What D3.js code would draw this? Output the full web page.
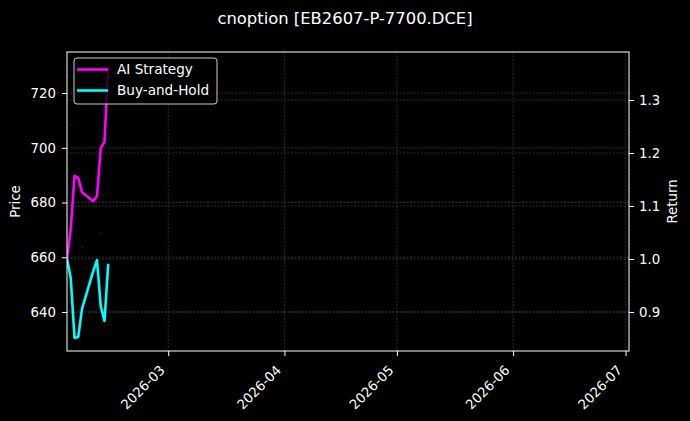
<!DOCTYPE html>
<html>
<head>
<meta charset="utf-8">
<script src="https://cdn.jsdelivr.net/npm/d3@7"></script>
<style>
  html, body { margin: 0; padding: 0; background: #000; }
  svg { display: block; font-family: "DejaVu Sans", sans-serif; }
</style>
</head>
<body>
<div id="chart"></div>
<script>
// trading days shown in the chart
const dates = ['2026-02-02', '2026-02-03', '2026-02-04', '2026-02-05', '2026-02-06',
               '2026-02-09', '2026-02-10', '2026-02-11', '2026-02-12', '2026-02-13'];

// cumulative returns (right axis)
const aiStrategy = [1.000, 1.057, 1.157, 1.153, 1.126, 1.109, 1.119, 1.209, 1.221, 1.363];
const buyAndHold = [1.000, 0.964, 0.851, 0.853, 0.906, 0.977, 0.998, 0.911, 0.883, 0.991];

// small trade markers, on the price axis
const signalDates = ['2026-02-03', '2026-02-06', '2026-02-11'];
const signalPrices = [708.3, 663.7, 668.8];

const priceTicks = [640, 660, 680, 700, 720];
const returnTicks = [0.9, 1.0, 1.1, 1.2, 1.3];
const monthTicks = ['2026-03-01', '2026-04-01', '2026-05-01', '2026-06-01', '2026-07-01'];

const seriesNames = ['AI Strategy', 'Buy-and-Hold'];
const seriesColors = ['#ff00ff', '#00ffff'];

class DualAxisChart {

    constructor(_config) {
        this.config = {
            parentElement: _config.parentElement,
            containerWidth: _config.containerWidth || 690,
            containerHeight: _config.containerHeight || 421,
            margin: _config.margin || {top: 52, right: 61, bottom: 70, left: 67}
        };
        this.initVis();
    }

    initVis() {
        let vis = this;
        const parse = d3.timeParse('%Y-%m-%d');

        vis.width = vis.config.containerWidth - vis.config.margin.left - vis.config.margin.right;
        vis.height = vis.config.containerHeight - vis.config.margin.top - vis.config.margin.bottom;

        vis.svg = d3.select(vis.config.parentElement)
            .append('svg')
            .attr('width', vis.config.containerWidth)
            .attr('height', vis.config.containerHeight)
            .style('background', '#000');

        vis.chart = vis.svg.append('g')
            .attr('transform', `translate(${vis.config.margin.left},${vis.config.margin.top})`);

        // scales
        vis.x = d3.scaleTime()
            .domain([new Date(2026, 1, 2), new Date(2026, 6, 1, 22)])
            .range([0, vis.width]);
        vis.yPrice = d3.scaleLinear().domain([625.75, 735]).range([vis.height, 0]);
        vis.yReturn = d3.scaleLinear().domain([0.8264, 1.3906]).range([vis.height, 0]);

        const months = monthTicks.map(parse);

        // grid
        const grid = vis.chart.append('g')
            .attr('stroke', '#4e4e4e')
            .attr('stroke-width', 0.6)
            .attr('stroke-dasharray', '2,1.5');
        grid.selectAll('.gx').data(months).join('line')
            .attr('x1', d => vis.x(d)).attr('x2', d => vis.x(d))
            .attr('y1', 0).attr('y2', vis.height);
        grid.selectAll('.gp').data(priceTicks).join('line')
            .attr('x1', 0).attr('x2', vis.width)
            .attr('y1', d => vis.yPrice(d)).attr('y2', d => vis.yPrice(d));
        grid.selectAll('.gr').data(returnTicks).join('line')
            .attr('x1', 0).attr('x2', vis.width)
            .attr('y1', d => vis.yReturn(d)).attr('y2', d => vis.yReturn(d));

        vis.svg.append('defs').append('clipPath').attr('id', 'clip')
            .append('rect').attr('width', vis.width).attr('height', vis.height);

        const plot = vis.chart.append('g').attr('clip-path', 'url(#clip)');

        // trade markers
        plot.selectAll('.signal')
            .data(signalDates.map((d, i) => ({date: parse(d), price: signalPrices[i]})))
            .join('circle')
            .attr('cx', d => vis.x(d.date))
            .attr('cy', d => vis.yPrice(d.price))
            .attr('r', 1)
            .attr('fill', '#5a0808');

        // return lines
        const line = d3.line()
            .x(d => vis.x(d.date))
            .y(d => vis.yReturn(d.value));

        [aiStrategy, buyAndHold].forEach((values, i) => {
            plot.append('path')
                .datum(values.map((v, j) => ({date: parse(dates[j]), value: v})))
                .attr('fill', 'none')
                .attr('stroke', seriesColors[i])
                .attr('stroke-width', 2.6)
                .attr('stroke-linejoin', 'round')
                .attr('d', line);
        });

        // axes
        const styleAxis = g => {
            g.select('.domain').remove();
            g.selectAll('.tick line').attr('stroke', '#fff');
            g.selectAll('.tick text').attr('fill', '#fff').attr('font-size', 13.3)
                .attr('font-family', '"DejaVu Sans", sans-serif');
        };

        vis.chart.append('g')
            .call(d3.axisLeft(vis.yPrice).tickValues(priceTicks).tickSize(5).tickPadding(6))
            .call(styleAxis);

        vis.chart.append('g')
            .attr('transform', `translate(${vis.width},0)`)
            .call(d3.axisRight(vis.yReturn).tickValues(returnTicks).tickFormat(d3.format('.1f'))
                .tickSize(5).tickPadding(5))
            .call(styleAxis);

        vis.chart.append('g')
            .attr('transform', `translate(0,${vis.height})`)
            .call(d3.axisBottom(vis.x).tickValues(months).tickFormat(d3.timeFormat('%Y-%m')).tickSize(5))
            .call(styleAxis)
            .selectAll('.tick text')
            .attr('text-anchor', 'end')
            .attr('dy', null)
            .attr('y', null)
            .attr('transform', 'translate(-3,20) rotate(-45)');

        // frame
        vis.chart.append('rect')
            .attr('width', vis.width).attr('height', vis.height)
            .attr('fill', 'none').attr('stroke', '#fff').attr('stroke-width', 1);

        // axis labels
        vis.svg.append('text')
            .attr('transform', `translate(20,${vis.config.margin.top + vis.height / 2}) rotate(-90)`)
            .attr('text-anchor', 'middle')
            .attr('fill', '#fff').attr('font-size', 13.3)
            .text('Price');
        vis.svg.append('text')
            .attr('transform', `translate(677,${vis.config.margin.top + vis.height / 2}) rotate(-90)`)
            .attr('text-anchor', 'middle')
            .attr('fill', '#fff').attr('font-size', 13.3)
            .text('Return');

        // title
        vis.svg.append('text')
            .attr('x', vis.config.containerWidth / 2)
            .attr('y', 24)
            .attr('text-anchor', 'middle')
            .attr('fill', '#fff').attr('font-size', 16.4)
            .text('cnoption [EB2607-P-7700.DCE]');

        // legend
        const legend = vis.chart.append('g').attr('transform', 'translate(7,6)');
        legend.append('rect')
            .attr('width', 143).attr('height', 46)
            .attr('rx', 3)
            .attr('fill', '#000').attr('fill-opacity', 0.8)
            .attr('stroke', '#cccccc').attr('stroke-width', 1);
        seriesNames.forEach((name, i) => {
            const row = legend.append('g').attr('transform', `translate(0,${11.5 + i * 21})`);
            row.append('line')
                .attr('x1', 3).attr('x2', 34)
                .attr('stroke', seriesColors[i]).attr('stroke-width', 2.6);
            row.append('text')
                .attr('x', 43).attr('y', 4.8)
                .attr('fill', '#fff').attr('font-size', 13.6)
                .text(name);
        });
    }
}

new DualAxisChart({parentElement: '#chart'});
</script>
</body>
</html>
